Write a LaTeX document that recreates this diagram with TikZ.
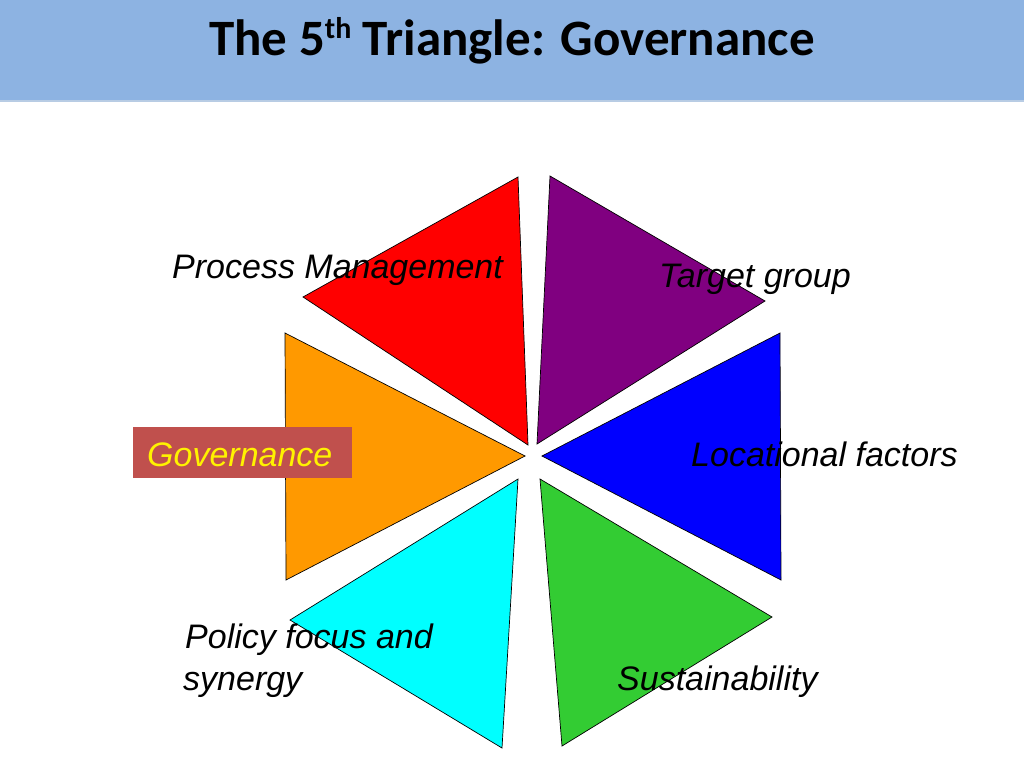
\documentclass[tikz,border=0pt]{standalone}
\usepackage{fontspec}
\setmainfont{Liberation Sans}
\newfontfamily\titlefont{Carlito}
\definecolor{bandblue}{HTML}{8DB3E2}
\definecolor{bandline}{HTML}{B8CCE4}
\definecolor{tpurple}{HTML}{800080}
\definecolor{tgreen}{HTML}{33CC33}
\definecolor{torange}{HTML}{FF9900}
\definecolor{tcyan}{HTML}{00FFFF}
\definecolor{boxred}{HTML}{C0504D}
\begin{document}
\begin{tikzpicture}[x=1pt,y=-1pt,
  tri/.style={draw=black,line width=0.7pt,line join=miter},
  lab/.style={inner sep=0pt,anchor=base west,font=\fontsize{34}{41}\selectfont\itshape},
  ]
\useasboundingbox (0,0) rectangle (1024,768);
\fill[white] (0,0) rectangle (1024,768);
% title band
\fill[bandblue] (0,0) rectangle (1024,100);
\fill[bandline] (0,100) rectangle (1024,102);
\node[inner sep=0pt,anchor=base] (title) at (512,56)
  {\titlefont\bfseries\fontsize{51}{60}\selectfont The 5\raisebox{17pt}{\fontsize{30}{30}\selectfont th} Triangle: Governance};
% triangles
\draw[tri,fill=red]      (303,297) -- (518,177) -- (528,445) -- cycle;
\draw[tri,fill=tpurple]  (550,176) -- (765,301) -- (537,444) -- cycle;
\draw[tri,fill=blue]     (780,333) -- (781,580) -- (542,456) -- cycle;
\draw[tri,fill=tgreen]   (540,479) -- (772,617) -- (562,746) -- cycle;
\draw[tri,fill=tcyan]    (518,479) -- (502,748) -- (290,620) -- cycle;
\draw[tri,fill=torange]  (285,333) -- (525,456) -- (286,580) -- cycle;
% governance box
\fill[boxred] (133,427) rectangle (352,478);
\node[lab,text=yellow] (gov) at (147,466) {Governance};
% labels
\node[lab] (pm) at (172,278) {Process Management};
\node[lab] (tg) at (659,287) {Target group};
\node[lab] (lf) at (691,466) {Locational factors};
\node[lab] (pf) at (185,648) {Policy focus and};
\node[lab] (sy) at (183,690) {synergy};
\node[lab] (su) at (617,690) {Sustainability};
\end{tikzpicture}
\end{document}
